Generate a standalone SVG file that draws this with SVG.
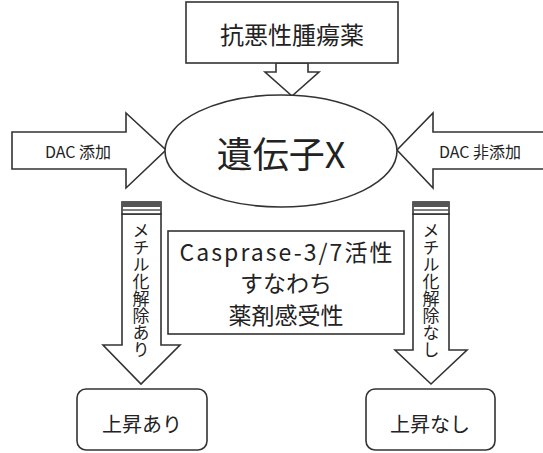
<svg xmlns="http://www.w3.org/2000/svg" width="543" height="453" viewBox="0 0 543 453">
<style>
.s{fill:#fff;stroke:#333;stroke-width:1.6}
.t{font-family:"Noto Sans CJK JP","Noto Sans",sans-serif;fill:#222;text-anchor:middle}
.v{font-family:"Noto Sans CJK JP",sans-serif;fill:#222;text-anchor:middle;writing-mode:vertical-rl;font-size:17px}
</style>
<rect width="543" height="453" fill="#fff"/>
<g id="connectors">
<polygon class="s" points="276,63 276,72 265,72 292,96 319,72 308,72 308,63"/>
<polygon class="s" points="12,132 126,132 126,113 166,150 126,188 126,169 12,169"/>
<polyline class="s" points="543,132 433,132 433,113 397,150 433,188 433,169 543,169"/>
<g id="arrow-left-down">
<polygon class="s" points="122,214 122,345 103,345 141,384 180,345 161,345 161,214"/>
<rect x="122" y="202" width="39" height="12" class="s"/>
<rect x="122" y="202" width="39" height="5" fill="#555"/>
<line x1="122" y1="210" x2="161" y2="210" stroke="#555" stroke-width="1.5"/>
<text class="v" x="141" y="290">メチル化解除あり</text>
</g>
<g id="arrow-right-down">
<polygon class="s" points="413,214 413,350 395,350 431,384 467,350 449,350 449,214"/>
<rect x="413" y="202" width="36" height="12" class="s"/>
<rect x="413" y="202" width="36" height="5" fill="#555"/>
<line x1="413" y1="210" x2="449" y2="210" stroke="#555" stroke-width="1.5"/>
<text class="v" x="431" y="290">メチル化解除なし</text>
</g>
<text class="t" x="78" y="158" font-size="16">DAC 添加</text>
<text class="t" x="480" y="158" font-size="16">DAC 非添加</text>
</g>
<g id="drug">
<rect class="s" x="186" y="2" width="212" height="61"/>
<text class="t" x="292" y="44" font-size="24">抗悪性腫瘍薬</text>
</g>
<g id="gene">
<ellipse class="s" cx="281" cy="151" rx="116" ry="56"/>
<text class="t" x="281" y="168" font-size="36">遺伝子X</text>
</g>
<g id="caspase">
<rect class="s" x="168" y="231" width="236" height="103"/>
<text class="t" x="286" y="261" font-size="23" textLength="213" lengthAdjust="spacing">Casprase-3/7活性</text>
<text class="t" x="286" y="292" font-size="23">すなわち</text>
<text class="t" x="286" y="324" font-size="23">薬剤感受性</text>
</g>
<g id="up-yes">
<rect class="s" x="77" y="389" width="130" height="61" rx="9"/>
<text class="t" x="142" y="432" font-size="20">上昇あり</text>
</g>
<g id="up-no">
<rect class="s" x="366" y="389" width="129" height="61" rx="9"/>
<text class="t" x="430" y="432" font-size="20">上昇なし</text>
</g>
</svg>
